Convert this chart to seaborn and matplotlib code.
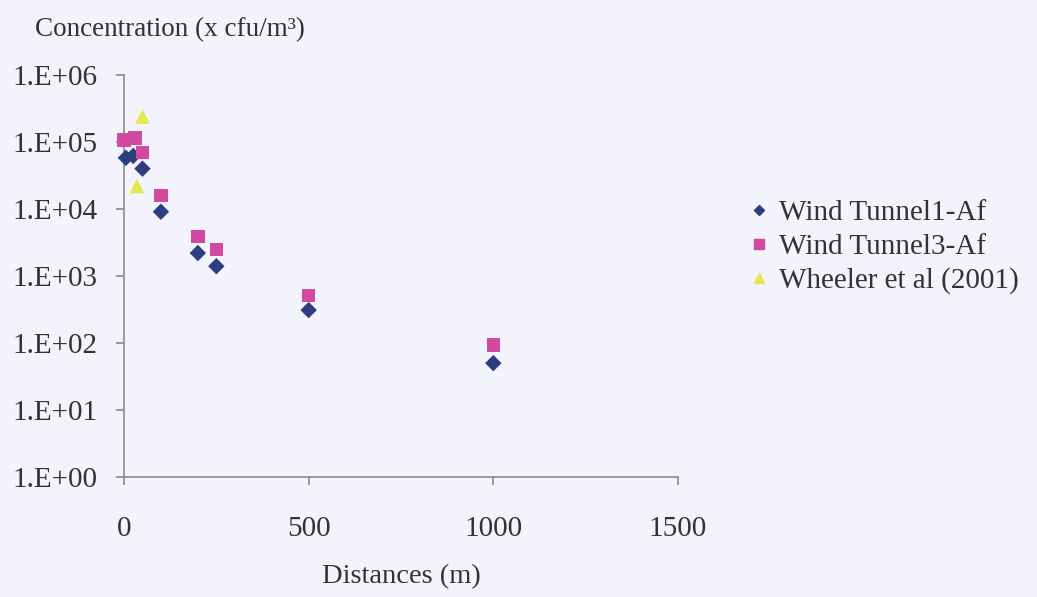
import matplotlib
matplotlib.use("Agg")
import matplotlib.pyplot as plt
import seaborn as sns
import pandas as pd
from matplotlib.ticker import FixedLocator, FixedFormatter

# Data
series_names = ["Wind Tunnel1-Af", "Wind Tunnel3-Af", "Wheeler et al (2001)"]
wt1_dist = [5, 25, 50, 100, 200, 250, 500, 1000]
wt1_conc = [5.8e4, 6.2e4, 4.0e4, 9.1e3, 2.2e3, 1.4e3, 3.1e2, 50]
wt3_dist = [0, 30, 50, 100, 200, 250, 500, 1000]
wt3_conc = [1.07e5, 1.15e5, 7.0e4, 1.6e4, 3.9e3, 2.5e3, 5.1e2, 93]
wh_dist = [50, 35]
wh_conc = [2.4e5, 2.2e4]
y_ticks = [1e0, 1e1, 1e2, 1e3, 1e4, 1e5, 1e6]
y_tick_labels = ["1.E+00", "1.E+01", "1.E+02", "1.E+03", "1.E+04", "1.E+05", "1.E+06"]
x_ticks = [0, 500, 1000, 1500]

df = pd.concat([
    pd.DataFrame({"dist": wt1_dist, "conc": wt1_conc, "series": series_names[0]}),
    pd.DataFrame({"dist": wt3_dist, "conc": wt3_conc, "series": series_names[1]}),
    pd.DataFrame({"dist": wh_dist, "conc": wh_conc, "series": series_names[2]}),
], ignore_index=True)

sns.set_style("white")
bg = "#f2f3fb"
plt.rcParams["font.family"] = ["Liberation Serif", "DejaVu Serif"]

fig = plt.figure(figsize=(10.37, 5.97), dpi=100, facecolor=bg)
ax = fig.add_axes([124/1037, 1-477/597, (678-124)/1037, (477-75)/597])
ax.set_facecolor(bg)

palette = {series_names[0]: "#2e3d80", series_names[1]: "#d24a9f", series_names[2]: "#e6e64e"}
markers = {series_names[0]: "D", series_names[1]: "s", series_names[2]: "^"}
sizes = {series_names[0]: 70, series_names[1]: 95, series_names[2]: 110}

for name in series_names:
    sub = df[df["series"] == name]
    sns.scatterplot(data=sub, x="dist", y="conc", ax=ax, color=palette[name],
                    marker=markers[name], s=sizes[name], edgecolor="none",
                    label=name, legend=False)
for coll in ax.collections:
    coll.set_clip_on(False)
    coll.set_zorder(3)

ax.set_yscale("log")
ax.set_xlim(0, 1500)
ax.set_ylim(1, 1e6)
ax.yaxis.set_major_locator(FixedLocator(y_ticks))
ax.yaxis.set_major_formatter(FixedFormatter(y_tick_labels))
ax.yaxis.set_minor_locator(FixedLocator([]))
ax.set_xticks(x_ticks)
ax.set_xticklabels([str(v) for v in x_ticks])

for s in ["top", "right"]:
    ax.spines[s].set_visible(False)
for s in ["left", "bottom"]:
    ax.spines[s].set_color("#8a8a8a")
    ax.spines[s].set_linewidth(1.2)
ax.tick_params(axis="both", which="major", direction="out", length=6, width=1.2,
               color="#8a8a8a", labelsize=21, labelcolor="#333333",
               bottom=True, left=True)
ax.tick_params(axis="x", pad=22)
ax.tick_params(axis="y", pad=13)
ax.set_xlabel("")
ax.set_ylabel("")

fig.text(35/1037, 1-30/597, "Concentration (x cfu/m³)", fontsize=19.5, color="#333333",
         ha="left", va="center")
fig.text(401/1037, 1-577/597, "Distances (m)", fontsize=20.5, color="#333333",
         ha="center", va="center")

handles = [plt.Line2D([], [], linestyle="none", marker=markers[n], color=palette[n],
                      markersize={"D": 5.5, "s": 6.5, "^": 7}[markers[n]]) for n in series_names]
leg = fig.legend(handles, series_names, loc="center left", bbox_to_anchor=(750/1037, 1-247/597),
                 frameon=False, fontsize=21, handlelength=0.6, handletextpad=0.4,
                 labelspacing=0.25, borderaxespad=0, borderpad=0)
for t in leg.get_texts():
    t.set_color("#333333")

fig.savefig("out.png", dpi=100, facecolor=bg)
